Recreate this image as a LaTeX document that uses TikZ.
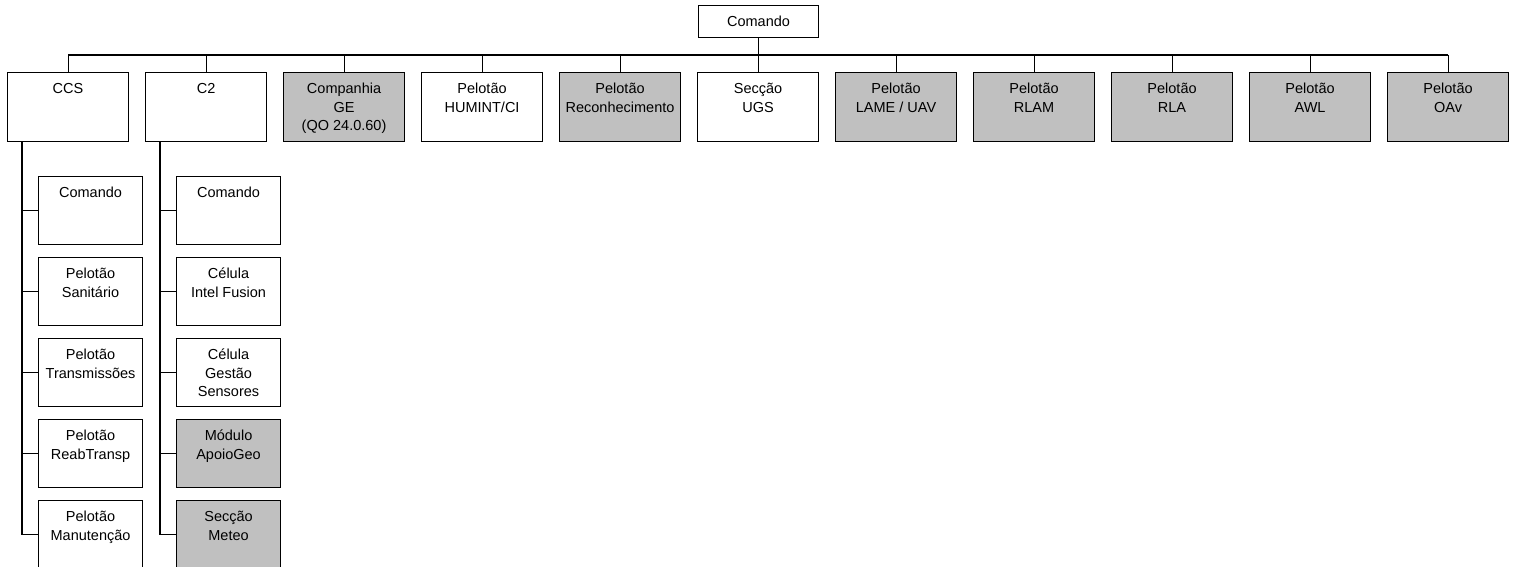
\documentclass[tikz,border=0pt]{standalone}
\usepackage{fontspec}
\setmainfont{Liberation Sans}
\usetikzlibrary{positioning}
\definecolor{unitgrey}{HTML}{C0C0C0}
\newcommand{\celltext}[2][52pt]{%
    \vbox to #1{\hbox{\begin{tabular}[t]{@{}c@{}}#2\end{tabular}}\vss}}
\tikzset{%
    box/.style={draw, line width=1.1pt, inner sep=0pt, anchor=north west,
        font=\fontsize{14.5}{18.5}\selectfont},
    unit/.style={box, minimum width=121pt, minimum height=69pt},
    sub/.style={box, minimum width=104pt, minimum height=68pt},
    link/.style={line width=1.1pt}
}

\begin{document}
\begin{tikzpicture}[x=1pt, y=-1pt]
    \useasboundingbox (0, 0) rectangle (1519, 567);

    \node[box, minimum width=120pt, minimum height=32pt] (comando) at (698, 5)
        {\celltext[15pt]{Comando}};
    \coordinate (bus) at (0, 55);

    \foreach \name/\txt/\shade [count=\i from 0] in {%
        ccs/CCS/white,
        c2/C2/white,
        ge/{Companhia\\GE\\(QO 24.0.60)}/unitgrey,
        humint/{Pelotão\\HUMINT/CI}/white,
        rec/{Pelotão\\Reconhecimento}/unitgrey,
        ugs/{Secção\\UGS}/white,
        lame/{Pelotão\\LAME / UAV}/unitgrey,
        rlam/{Pelotão\\RLAM}/unitgrey,
        rla/{Pelotão\\RLA}/unitgrey,
        awl/{Pelotão\\AWL}/unitgrey,
        oav/{Pelotão\\OAv}/unitgrey}{%
        \node[unit, fill=\shade] (\name) at ({7+138*\i}, 72) {\celltext{\txt}};
        \draw[link] (\name.north) -- (\name.north |- bus);
    }
    \draw[link] (ccs.north |- bus) -- (oav.north |- bus);
    \draw[link] (comando.south) -- (comando.south |- bus);

    \foreach \txt/\shade [count=\k from 0] in {%
        Comando/white,
        {Pelotão\\Sanitário}/white,
        {Pelotão\\Transmissões}/white,
        {Pelotão\\ReabTransp}/white,
        {Pelotão\\Manutenção}/white}{%
        \node[sub, fill=\shade] (ccs\k) at (38, {176+81*\k}) {\celltext{\txt}};
        \draw[link] ([xshift=15pt] ccs.south west) |- (ccs\k.west);
    }

    \foreach \txt/\shade [count=\k from 0] in {%
        Comando/white,
        {Célula\\Intel Fusion}/white,
        {Célula\\Gestão\\Sensores}/white,
        {Módulo\\ApoioGeo}/unitgrey,
        {Secção\\Meteo}/unitgrey}{%
        \node[sub, fill=\shade] (c2\k) at (176, {176+81*\k}) {\celltext{\txt}};
        \draw[link] ([xshift=15pt] c2.south west) |- (c2\k.west);
    }

\end{tikzpicture}
\end{document}
